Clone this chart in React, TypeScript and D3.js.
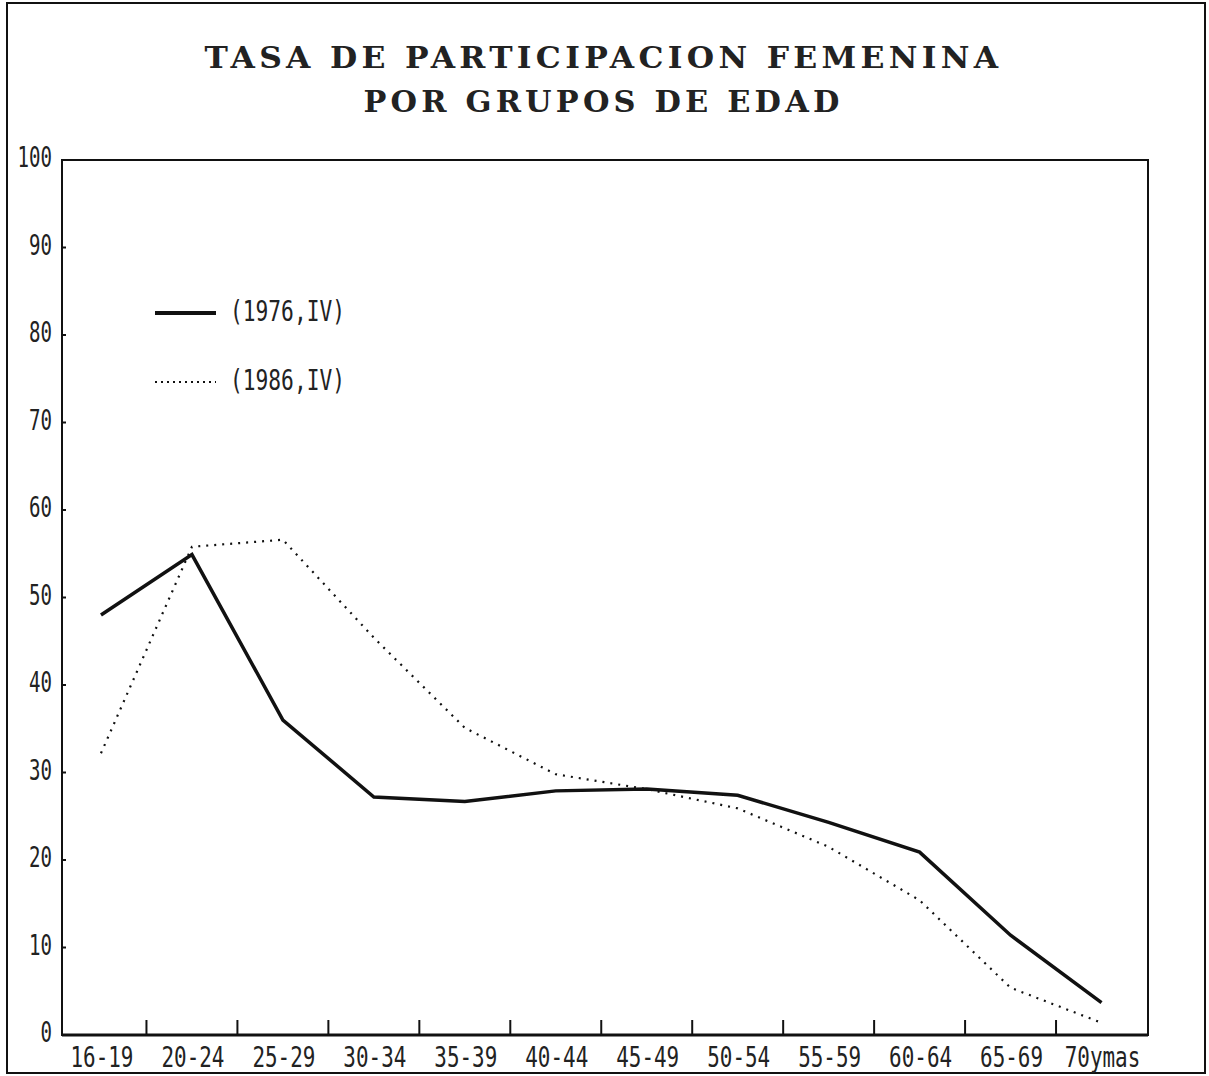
import * as d3 from "d3";
import { useEffect, useRef } from "react";

const width = 1209;
const height = 1076;
const plot = { left: 62, right: 1148, top: 160, bottom: 1035 };

const groups = [
  "16-19",
  "20-24",
  "25-29",
  "30-34",
  "35-39",
  "40-44",
  "45-49",
  "50-54",
  "55-59",
  "60-64",
  "65-69",
  "70ymas",
];
const rate1976 = [48.0, 54.9, 36.0, 27.2, 26.7, 27.9, 28.1, 27.4, 24.3, 20.9, 11.4, 3.7];
const rate1986 = [32.2, 55.8, 56.6, 45.4, 35.1, 29.8, 28.1, 25.9, 21.5, 15.4, 5.4, 1.4];
const yTicks = [0, 10, 20, 30, 40, 50, 60, 70, 80, 90, 100];
const seriesNames = ["(1976,IV)", "(1986,IV)"];
const titleLines = ["TASA DE PARTICIPACION FEMENINA", "POR GRUPOS DE EDAD"];

const labelFont = "'DejaVu Sans Mono', monospace";

function drawChart(el: SVGSVGElement) {
  const svg = d3.select(el);
  svg.selectAll("*").remove();

  svg.append("rect").attr("width", width).attr("height", height).attr("fill", "white");

  // outer frame
  svg
    .append("rect")
    .attr("x", 7)
    .attr("y", 3)
    .attr("width", 1198)
    .attr("height", 1070)
    .attr("fill", "none")
    .attr("stroke", "#111")
    .attr("stroke-width", 2);

  // title
  const titleW = [798, 480];
  svg
    .selectAll(".title")
    .data(titleLines)
    .join("text")
    .classed("title", true)
    .attr("x", width / 2 - 1)
    .attr("y", (d, i) => 68 + i * 44)
    .attr("text-anchor", "middle")
    .attr("font-family", "'DejaVu Serif', serif")
    .attr("font-weight", "bold")
    .attr("font-size", 29)
    .attr("letter-spacing", 4)
    .attr("fill", "#222")
    .attr("textLength", (d, i) => titleW[i])
    .attr("lengthAdjust", "spacingAndGlyphs")
    .text((d) => d);

  const x = d3.scaleBand().domain(groups).range([55.5, 1147]);
  const y = d3.scaleLinear().domain([0, 100]).range([plot.bottom, plot.top]);

  // plot frame
  svg
    .append("rect")
    .attr("x", plot.left)
    .attr("y", plot.top)
    .attr("width", plot.right - plot.left)
    .attr("height", plot.bottom - plot.top)
    .attr("fill", "none")
    .attr("stroke", "#111")
    .attr("stroke-width", 2);
  svg
    .append("line")
    .attr("x1", plot.left)
    .attr("x2", plot.right)
    .attr("y1", plot.bottom)
    .attr("y2", plot.bottom)
    .attr("stroke", "#111")
    .attr("stroke-width", 3);

  // y axis ticks + labels
  const yAxis = svg.append("g");
  yAxis
    .selectAll("line")
    .data(yTicks.slice(1, -1))
    .join("line")
    .attr("x1", plot.left)
    .attr("x2", plot.left + 4)
    .attr("y1", (d) => y(d))
    .attr("y2", (d) => y(d))
    .attr("stroke", "#111")
    .attr("stroke-width", 2);
  yAxis
    .selectAll("text")
    .data(yTicks)
    .join("text")
    .attr("x", 52)
    .attr("y", (d) => y(d) + 7)
    .attr("text-anchor", "end")
    .attr("font-family", labelFont)
    .attr("font-size", 28)
    .attr("fill", "#222")
    .attr("textLength", (d) => String(d).length * 11.5)
    .attr("lengthAdjust", "spacingAndGlyphs")
    .text((d) => d);

  // x axis ticks (inside, between groups) + labels
  const xAxis = svg.append("g");
  xAxis
    .selectAll("line")
    .data(groups.slice(1))
    .join("line")
    .attr("x1", (d) => x(d) as number)
    .attr("x2", (d) => x(d) as number)
    .attr("y1", plot.bottom)
    .attr("y2", plot.bottom - 15)
    .attr("stroke", "#111")
    .attr("stroke-width", 2);
  xAxis
    .selectAll("text")
    .data(groups)
    .join("text")
    .attr("x", (d) => (x(d) as number) + x.bandwidth() / 2 + 1)
    .attr("y", 1067)
    .attr("text-anchor", "middle")
    .attr("font-family", labelFont)
    .attr("font-size", 28)
    .attr("fill", "#222")
    .attr("textLength", (d) => d.length * 12.6)
    .attr("lengthAdjust", "spacingAndGlyphs")
    .text((d) => d);

  const line = d3
    .line<number>()
    .x((d, i) => (x(groups[i]) as number) + x.bandwidth() / 2)
    .y((d) => y(d))
    .curve(d3.curveLinear);

  svg
    .append("path")
    .attr("d", line(rate1986))
    .attr("fill", "none")
    .attr("stroke", "#111")
    .attr("stroke-width", 2.2)
    .attr("stroke-dasharray", "2,6");

  svg
    .append("path")
    .attr("d", line(rate1976))
    .attr("fill", "none")
    .attr("stroke", "#111")
    .attr("stroke-width", 3.5);

  // legend
  const legend = svg.append("g");
  const legendY = [313, 382];
  legend
    .selectAll("line")
    .data(seriesNames)
    .join("line")
    .attr("x1", 155)
    .attr("x2", 216)
    .attr("y1", (d, i) => legendY[i])
    .attr("y2", (d, i) => legendY[i])
    .attr("stroke", "#111")
    .attr("stroke-width", (d, i) => (i === 0 ? 4 : 2))
    .attr("stroke-dasharray", (d, i) => (i === 0 ? null : "2,4"));
  legend
    .selectAll("text")
    .data(seriesNames)
    .join("text")
    .attr("x", 230)
    .attr("y", (d, i) => legendY[i] + 8)
    .attr("font-family", labelFont)
    .attr("font-size", 28)
    .attr("fill", "#222")
    .attr("textLength", 115)
    .attr("lengthAdjust", "spacingAndGlyphs")
    .text((d) => d);
}

export default function App() {
  const ref = useRef<SVGSVGElement>(null);

  useEffect(() => {
    if (ref.current) drawChart(ref.current);
  }, []);

  return (
    <svg
      ref={ref}
      width={width}
      height={height}
      style={{ position: "absolute", left: 0, top: 0, display: "block" }}
    />
  );
}
